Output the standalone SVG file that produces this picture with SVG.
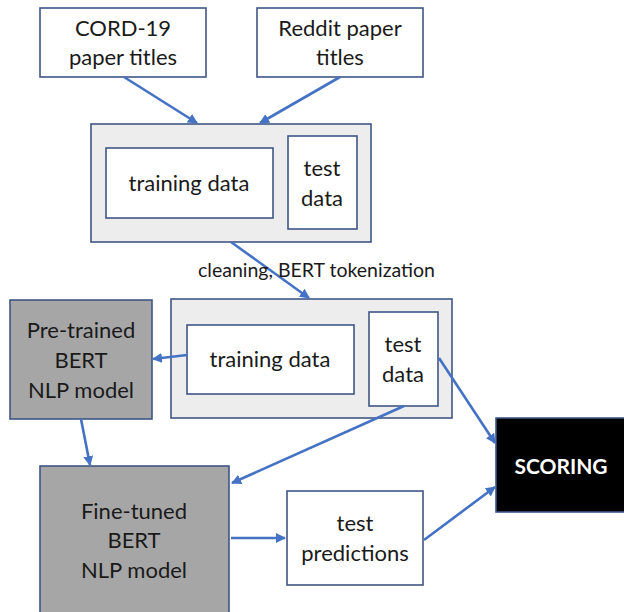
<svg xmlns="http://www.w3.org/2000/svg" width="624" height="612" viewBox="0 0 624 612">
<defs>
<style>
.box{fill:#ffffff;stroke:#3f5685;stroke-width:1.6}
.outer{fill:#ededed;stroke:#3f5685;stroke-width:1.6}
.gray{fill:#a6a6a6;stroke:#3f5685;stroke-width:1.6}
.black{fill:#000000;stroke:#3f5685;stroke-width:1.6}
.t{font-family:Lato,"Liberation Sans",sans-serif;font-size:22px;fill:#1a1a1a;text-anchor:middle}
.w{font-family:Lato,"Liberation Sans",sans-serif;font-size:21px;font-weight:bold;fill:#ffffff;text-anchor:middle}
.lbl{font-family:Lato,"Liberation Sans",sans-serif;font-size:19.5px;fill:#1a1a1a}
.c{stroke:#4472c4;stroke-width:2.6;fill:none;marker-end:url(#ah)}
</style>
<marker id="ah" viewBox="0 0 10 10" refX="9" refY="5" markerWidth="10" markerHeight="10" markerUnits="userSpaceOnUse" orient="auto">
<path d="M0,0 L10,5 L0,10 Z" fill="#4472c4"/>
</marker>
</defs>
<rect width="624" height="612" fill="#ffffff"/>

<g id="cord">
<rect class="box" x="40" y="8" width="166" height="69"/>
<text class="t" x="123" y="36">CORD-19</text>
<text class="t" x="123" y="65">paper titles</text>
</g>
<g id="reddit">
<rect class="box" x="257" y="8" width="166" height="69"/>
<text class="t" x="340" y="36">Reddit paper</text>
<text class="t" x="340" y="65">titles</text>
</g>

<g id="dataset1">
<rect class="outer" x="91" y="124" width="280" height="118"/>
<g id="train1">
<rect class="box" x="106" y="148" width="167" height="70"/>
<text class="t" x="189" y="191">training data</text>
</g>
<g id="test1">
<rect class="box" x="288" y="136" width="69" height="93"/>
<text class="t" x="322" y="176">test</text>
<text class="t" x="322" y="206">data</text>
</g>
</g>

<g id="dataset2">
<rect class="outer" x="171" y="299" width="281" height="119"/>
<g id="train2">
<rect class="box" x="187" y="325" width="167" height="69"/>
<text class="t" x="270" y="367">training data</text>
</g>
<g id="test2">
<rect class="box" x="369" y="312" width="69" height="94"/>
<text class="t" x="403" y="352">test</text>
<text class="t" x="403" y="382">data</text>
</g>
</g>

<g id="pretrained">
<rect class="gray" x="10" y="300" width="142" height="119"/>
<text class="t" x="81" y="338">Pre-trained</text>
<text class="t" x="81" y="368">BERT</text>
<text class="t" x="81" y="398">NLP model</text>
</g>

<g id="finetuned">
<rect class="gray" x="40" y="466" width="189" height="150"/>
<text class="t" x="134" y="519">Fine-tuned</text>
<text class="t" x="134" y="548">BERT</text>
<text class="t" x="134" y="578">NLP model</text>
</g>

<g id="predictions">
<rect class="box" x="287" y="491" width="136" height="94"/>
<text class="t" x="355" y="531">test</text>
<text class="t" x="355" y="561">predictions</text>
</g>

<g id="scoring">
<rect class="black" x="496" y="418" width="132" height="94"/>
<text class="w" x="561" y="474">SCORING</text>
</g>

<g id="connectors">
<line class="c" x1="124" y1="77" x2="197" y2="123"/>
<line class="c" x1="340" y1="77" x2="260" y2="123"/>
<line class="c" x1="231" y1="242" x2="309" y2="298"/>
<line class="c" x1="187" y1="355" x2="153" y2="359"/>
<line class="c" x1="81" y1="419" x2="90" y2="465"/>
<line class="c" x1="404" y1="406" x2="232" y2="483"/>
<line class="c" x1="439" y1="358" x2="495" y2="443"/>
<line class="c" x1="231" y1="538" x2="285" y2="538"/>
<line class="c" x1="424" y1="540" x2="495" y2="487"/>
</g>
<text class="lbl" x="198" y="277">cleaning, BERT tokenization</text>
</svg>
